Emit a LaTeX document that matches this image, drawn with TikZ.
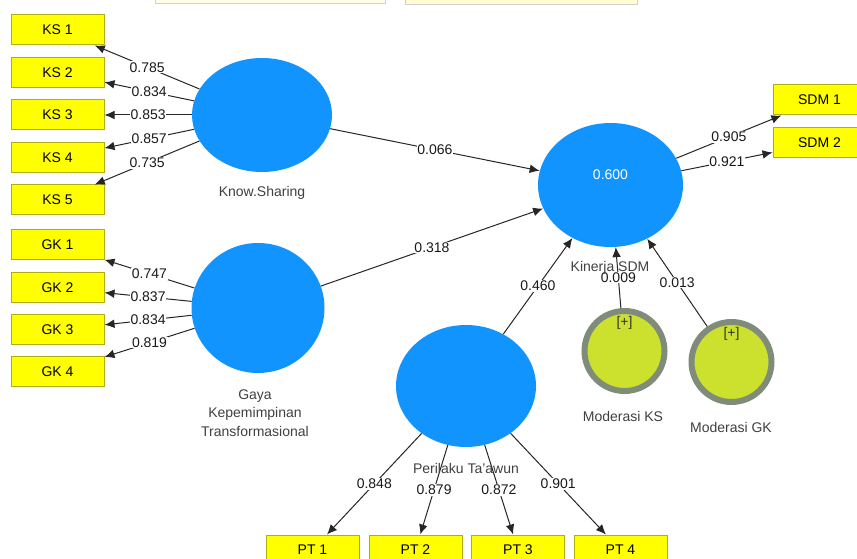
\documentclass[tikz,border=0pt]{standalone}
\usepackage{fontspec}
\setmainfont{Liberation Sans}
\usetikzlibrary{shapes.geometric,arrows.meta}

\definecolor{lvblue}{RGB}{18,148,255}
\definecolor{boxyellow}{RGB}{255,255,0}
\definecolor{boxline}{RGB}{175,175,20}
\definecolor{modfill}{RGB}{204,224,46}
\definecolor{modring}{RGB}{128,140,122}
\newcommand\plsfont{\fontsize{10.5}{14}\selectfont}

\tikzset{
  every node/.style={font=\plsfont},
  indicator/.style={rectangle, draw=boxline, fill=boxyellow, line width=0.75pt,
    minimum width=69.75pt, minimum height=22.5pt, inner sep=0pt},
  latent/.style={ellipse, fill=lvblue, inner sep=0pt},
  moder/.style={circle, draw=modring, fill=modfill, line width=4.5pt,
    minimum size=60pt, inner sep=0pt},
  pathline/.style={draw=black!85, line width=0.75pt, -{Latex[length=7.5pt,width=6.5pt]}},
  coef/.style={fill=white, inner sep=0.6pt, text=black!90},
  lvname/.style={text=black!75, align=center}
}

\begin{document}
\begin{tikzpicture}[x=0.75pt, y=-0.75pt]
  \clip (0,0) rectangle (857,559);
  \fill[white] (0,0) rectangle (857,559);

  % toolbar remains at the top
  \filldraw[fill=yellow!8, draw=black!18] (155,-6) rectangle (385,3);
  \filldraw[fill=yellow!18, draw=black!18] (405,-6) rectangle (637,4);

  % latent variables
  \node[latent, minimum width=105pt, minimum height=85.5pt] (ks) at (262,115) {};
  \node[latent, minimum width=99.75pt, minimum height=97.5pt] (gk) at (258,308) {};
  \node[latent, minimum width=108.75pt, minimum height=93pt] (kin) at (610.5,185) {};
  \node[latent, minimum width=105pt, minimum height=91.5pt] (pt) at (466,386) {};
  \node[moder] (mks) at (624.5,351) {};
  \node[moder] (mgk) at (731.5,362) {};

  % indicators
  \node[indicator] (ks1) at (57.5,30) {KS 1};
  \node[indicator] (ks2) at (57.5,72.5) {KS 2};
  \node[indicator] (ks3) at (57.5,115) {KS 3};
  \node[indicator] (ks4) at (57.5,158) {KS 4};
  \node[indicator] (ks5) at (57.5,200) {KS 5};
  \node[indicator] (gk1) at (57.5,245) {GK 1};
  \node[indicator] (gk2) at (57.5,288) {GK 2};
  \node[indicator] (gk3) at (57.5,330) {GK 3};
  \node[indicator] (gk4) at (57.5,372) {GK 4};
  \node[indicator] (sdm1) at (819.5,100) {SDM 1};
  \node[indicator] (sdm2) at (819.5,143) {SDM 2};
  \node[indicator] (pt1) at (312.5,550) {PT 1};
  \node[indicator] (pt2) at (415.5,550) {PT 2};
  \node[indicator] (pt3) at (518,550) {PT 3};
  \node[indicator] (pt4) at (620.5,550) {PT 4};

  % outer loadings
  \draw[pathline] (ks) -- node[coef] {0.785} (ks1);
  \draw[pathline] (ks) -- node[coef] {0.834} (ks2);
  \draw[pathline] (ks) -- node[coef] {0.853} (ks3);
  \draw[pathline] (ks) -- node[coef] {0.857} (ks4);
  \draw[pathline] (ks) -- node[coef] {0.735} (ks5);
  \draw[pathline] (gk) -- node[coef] {0.747} (gk1);
  \draw[pathline] (gk) -- node[coef] {0.837} (gk2);
  \draw[pathline] (gk) -- node[coef] {0.834} (gk3);
  \draw[pathline] (gk) -- node[coef] {0.819} (gk4);
  \draw[pathline] (kin) -- node[coef] {0.905} (sdm1);
  \draw[pathline] (kin) -- node[coef] {0.921} (sdm2);
  \draw[pathline] (pt) -- node[coef] {0.848} (pt1);
  \draw[pathline] (pt) -- node[coef] {0.879} (pt2);
  \draw[pathline] (pt) -- node[coef] {0.872} (pt3);
  \draw[pathline] (pt) -- node[coef] {0.901} (pt4);

  % path coefficients
  \draw[pathline] (ks) -- node[coef] {0.066} (kin);
  \draw[pathline] (gk) -- node[coef] {0.318} (kin);
  \draw[pathline] (pt) -- node[coef] {0.460} (kin);
  \draw[pathline] (mks) -- node[coef] {0.009} (kin);
  \draw[pathline] (mgk) -- node[coef] {0.013} (kin);

  % names
  \node[text=white] (r2) at (610.5,175) {0.600};
  \node[text=black!80] (mksplus) at (624.5,323) {[+]};
  \node[text=black!80] (mgkplus) at (731.5,334) {[+]};
  \node[lvname] (ksname) at (262,193) {Know.Sharing};
  \node[lvname] (gkname) at (255,413) {Gaya\\Kepemimpinan\\Transformasional};
  \node[lvname] (kinname) at (610,268) {Kinerja SDM};
  \node[lvname] (ptname) at (466,468) {Perilaku Ta'awun};
  \node[lvname] (mksname) at (623,416) {Moderasi KS};
  \node[lvname] (mgkname) at (731,427) {Moderasi GK};
\end{tikzpicture}
\end{document}
